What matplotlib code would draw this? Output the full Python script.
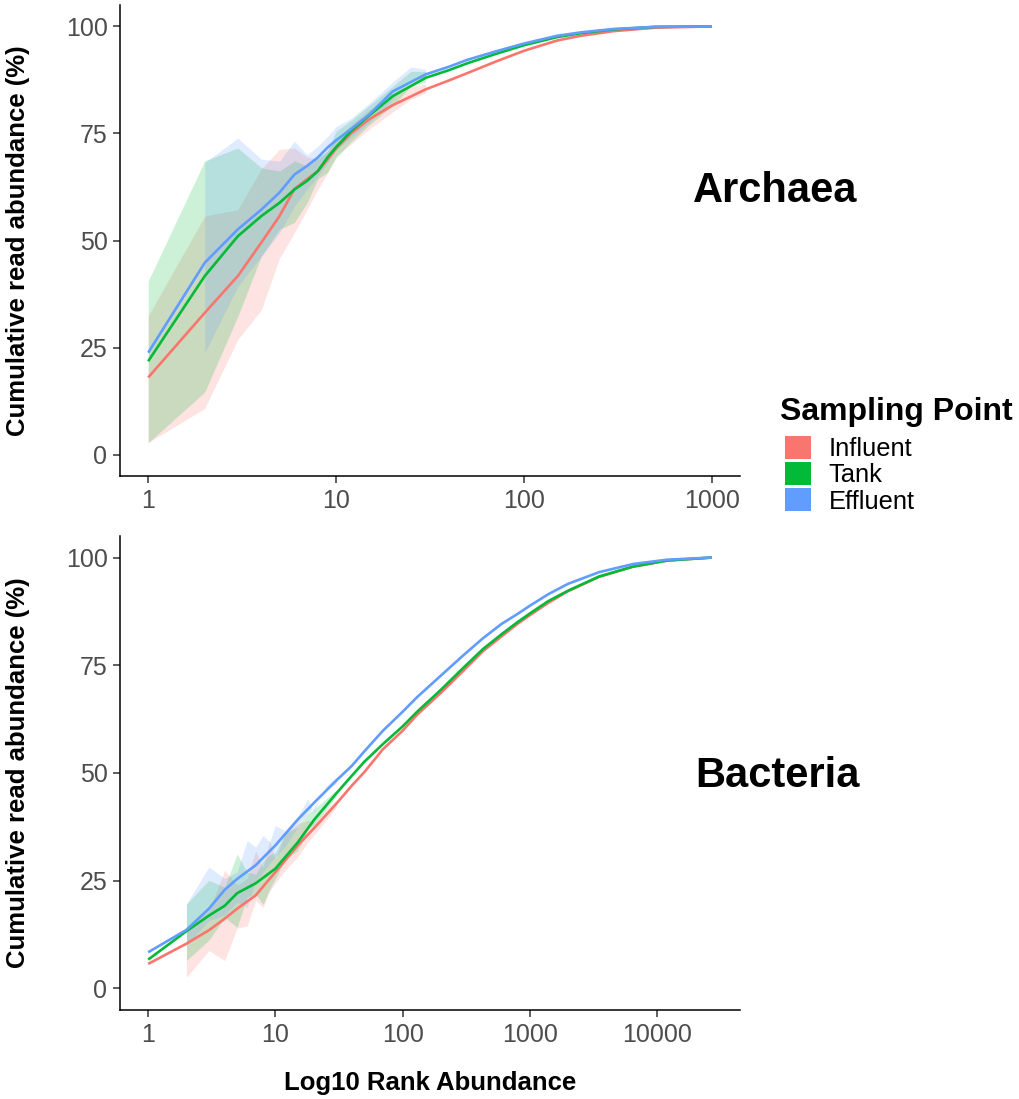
import matplotlib
matplotlib.use("Agg")
import matplotlib.pyplot as plt
from matplotlib.patches import Patch
import numpy as np

plt.rcParams['font.family'] = ['Liberation Sans', 'DejaVu Sans']

groups = ['Influent', 'Tank', 'Effluent']
colors = ['#F8766D', '#00BA38', '#619CFF']

# Archaea: mean cumulative abundance curves
arch_rank = [1, 2, 3, 4, 5, 6, 7, 8, 9, 10, 12, 15, 20, 30, 40, 50, 70, 100, 150, 200, 300, 500, 1000]
arch_inf = [18.0, 33.1, 41.7, 49.5, 55.7, 62.0, 64.3, 66.2, 68.9, 71.5, 75.0, 78.3, 81.6, 85.3, 87.4, 89.1,
            91.7, 94.3, 96.7, 97.8, 98.9, 99.7, 100]
arch_tank = [21.8, 41.7, 51.0, 55.7, 58.8, 61.9, 63.9, 66.2, 69.4, 71.8, 75.5, 79.2, 83.7, 88.0, 89.8, 91.4,
             93.5, 95.6, 97.5, 98.4, 99.3, 99.9, 100]
arch_eff = [23.8, 44.8, 52.6, 57.2, 61.2, 65.4, 67.4, 69.4, 71.7, 73.4, 76.0, 79.4, 84.8, 88.8, 90.6, 92.2,
            94.1, 96.0, 97.8, 98.6, 99.4, 99.9, 100]

# Archaea ribbons
arch_rib_rank = [1, 2, 3, 4, 5, 6, 7, 8, 9, 10, 12, 15, 20, 25, 30]
arch_inf_lo = [2.8, 10.8, 26.9, 33.8, 45.9, 51.8, 57.2, 61.9, 65.7, 69.7, 72.5, 76.0, 80.0, 83.0, 84.5]
arch_inf_hi = [32.4, 55.7, 57.2, 66.7, 71.3, 71.6, 69.5, 69.0, 71.0, 73.5, 77.0, 80.5, 83.5, 86.0, 86.5]
arch_tank_lo = [2.8, 14.6, 32.3, 46.3, 52.6, 54.2, 58.8, 64.4, 65.9, 69.3, 73.0, 77.0, 81.5, 86.0, 87.0]
arch_tank_hi = [40.5, 68.6, 71.6, 67.0, 66.2, 68.6, 67.4, 69.3, 70.9, 75.5, 78.0, 81.5, 86.0, 89.5, 89.5]
arch_eff_lo = [np.nan, 23.8, 39.3, 46.3, 51.8, 58.0, 61.9, 65.0, 68.1, 71.2, 74.0, 77.5, 83.0, 87.5, 88.0]
arch_eff_hi = [np.nan, 68.2, 73.9, 69.0, 68.5, 73.2, 70.0, 72.0, 74.3, 76.6, 78.5, 82.0, 87.0, 90.5, 90.0]

# Bacteria: mean cumulative abundance curves
bact_rank = [1, 2, 3, 4, 5, 7, 10, 15, 20, 30, 40, 50, 70, 100, 130, 200, 300, 430, 600, 800, 1000,
             1400, 2000, 3500, 6500, 12000, 27000]
bact_inf = [5.7, 10.4, 13.5, 16.2, 18.5, 21.6, 27.0, 33.2, 37.1, 42.8, 47.1, 50.2, 55.5, 59.8, 63.5, 68.6,
            73.7, 78.3, 81.7, 84.6, 86.6, 89.5, 92.2, 95.5, 97.9, 99.3, 100]
bact_tank = [6.7, 13.3, 16.9, 19.2, 22.1, 24.4, 27.8, 33.9, 39.0, 45.2, 49.4, 52.6, 56.7, 60.8, 64.2, 69.3,
             74.4, 78.8, 82.2, 85.0, 87.0, 89.9, 92.3, 95.6, 97.9, 99.3, 100]
bact_eff = [8.4, 13.6, 18.5, 22.9, 25.4, 28.6, 33.2, 39.2, 43.0, 48.2, 51.7, 55.0, 59.8, 64.2, 67.6, 72.6,
            77.3, 81.3, 84.6, 86.9, 88.8, 91.5, 93.9, 96.6, 98.5, 99.5, 100]

# Bacteria ribbons
bact_rib_rank = [2, 3, 4, 5, 6, 7, 8, 9, 10, 12, 15, 18, 20, 25, 30]
bact_inf_lo = [2.6, 8.8, 6.5, 14.0, 14.5, 20.4, 18.8, 22.5, 24.5, 27.5, 30.5, 34.0, 35.5, 39.0, 42.0]
bact_inf_hi = [14.0, 18.0, 27.4, 24.0, 25.5, 32.0, 28.0, 34.3, 30.0, 36.0, 38.2, 39.0, 38.5, 41.5, 43.8]
bact_tank_lo = [6.5, 11.2, 16.5, 14.2, 21.2, 21.9, 19.5, 23.0, 25.5, 30.0, 32.0, 37.0, 38.0, 41.5, 44.5]
bact_tank_hi = [19.6, 25.1, 23.5, 31.2, 27.0, 26.5, 29.5, 31.0, 31.5, 36.0, 37.5, 40.5, 41.5, 44.0, 46.0]
bact_eff_lo = [10.0, 15.8, 17.0, 20.0, 18.8, 25.0, 27.0, 29.0, 30.5, 33.0, 37.5, 40.5, 42.0, 46.0, 47.5]
bact_eff_hi = [19.6, 28.2, 25.5, 27.0, 34.3, 32.8, 35.5, 34.0, 37.8, 36.5, 40.0, 44.0, 41.0, 47.0, 49.0]

arch_ticks = [1, 10, 100, 1000]
bact_ticks = [1, 10, 100, 1000, 10000]
y_ticks = [0, 25, 50, 75, 100]

fig = plt.figure(figsize=(10.19, 10.99), dpi=100)
ax1 = fig.add_axes([120 / 1019, 1 - 476 / 1099, 620 / 1019, 471 / 1099])
ax2 = fig.add_axes([120 / 1019, 1 - 1010 / 1099, 620 / 1019, 474 / 1099])


def draw_panel(ax, rank, means, rib_rank, lows, highs, ticks):
    for lo, hi, c in zip(lows, highs, colors):
        ax.fill_between(rib_rank, lo, hi, color=c, alpha=0.2, lw=0)
    for m, c in zip(means, colors):
        ax.plot(rank, m, color=c, lw=1.9, solid_capstyle='butt', solid_joinstyle='round')
    ax.set_xscale('log')
    lmax = np.log10(max(rank))
    ax.set_xlim(10 ** (-0.05 * lmax), 10 ** (1.05 * lmax))
    ax.set_ylim(-5, 105)
    ax.set_xticks(ticks)
    ax.set_xticklabels([str(t) for t in ticks])
    ax.xaxis.set_minor_locator(matplotlib.ticker.NullLocator())
    ax.set_yticks(y_ticks)
    for s in ['top', 'right']:
        ax.spines[s].set_visible(False)
    for s in ['left', 'bottom']:
        ax.spines[s].set_linewidth(1.1)
    ax.tick_params(length=5, width=1.1, color='#333333', labelcolor='#4D4D4D',
                   labelsize=18, pad=4)
    ax.set_ylabel('Cumulative read abundance (%)', fontsize=18.5, fontweight='bold')
    ax.yaxis.set_label_coords(-0.145, 0.5)


draw_panel(ax1, arch_rank, [arch_inf, arch_tank, arch_eff], arch_rib_rank,
           [arch_inf_lo, arch_tank_lo, arch_eff_lo],
           [arch_inf_hi, arch_tank_hi, arch_eff_hi], arch_ticks)
draw_panel(ax2, bact_rank, [bact_inf, bact_tank, bact_eff], bact_rib_rank,
           [bact_inf_lo, bact_tank_lo, bact_eff_lo],
           [bact_inf_hi, bact_tank_hi, bact_eff_hi], bact_ticks)

ax2.set_xlabel('Log10 Rank Abundance', fontsize=18.5, fontweight='bold')
ax2.xaxis.set_label_coords(0.5, -0.128)

fig.text(775 / 1019, 1 - 191 / 1099, 'Archaea', fontsize=30, fontweight='bold',
         ha='center', va='center')
fig.text(778 / 1019, 1 - 776 / 1099, 'Bacteria', fontsize=30, fontweight='bold',
         ha='center', va='center')

# legend: title as its own text, keys abutting below it
fig.text(780 / 1019, 1 - 412 / 1099, 'Sampling Point', fontsize=23, fontweight='bold',
         ha='left', va='center')
handles = [Patch(facecolor=c, edgecolor='none') for c in colors]
leg = fig.legend(handles, groups, loc='upper left',
                 bbox_to_anchor=(785 / 1019, 1 - 436 / 1099), frameon=False,
                 fontsize=18.4, handlelength=1.0, handleheight=1.0,
                 labelspacing=0.04, handletextpad=0.7, borderpad=0,
                 borderaxespad=0)

fig.savefig('out.png', dpi=100)
